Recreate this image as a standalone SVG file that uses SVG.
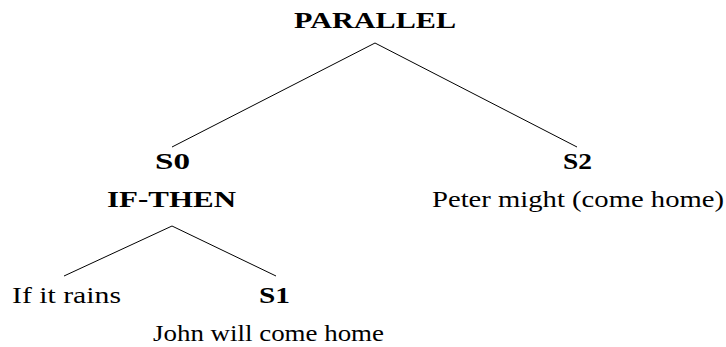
<svg xmlns="http://www.w3.org/2000/svg" width="726" height="347" viewBox="0 0 726 347">
<style>
text{font-family:Liberation Serif,DejaVu Serif,Times New Roman,serif;font-size:24px;fill:#000;text-anchor:middle}
.b{font-weight:bold}
line{stroke:#000;stroke-width:1}
</style>
<rect width="726" height="347" fill="#fff"/>
<g id="connectors">
<line x1="375" y1="43" x2="172" y2="147"/>
<line x1="375" y1="43" x2="577" y2="147"/>
<line x1="172" y1="226" x2="64" y2="276"/>
<line x1="172" y1="226" x2="276" y2="276"/>
</g>
<g id="parallel"><text class="b" x="375" y="28" textLength="162" lengthAdjust="spacingAndGlyphs">PARALLEL</text></g>
<g id="s0">
<text class="b" x="172.5" y="169" textLength="35" lengthAdjust="spacingAndGlyphs">S0</text>
<text class="b" x="171.5" y="207" textLength="129" lengthAdjust="spacingAndGlyphs">IF-THEN</text>
</g>
<g id="s2">
<text class="b" x="577.5" y="169" textLength="29" lengthAdjust="spacingAndGlyphs">S2</text>
<text x="578" y="207" textLength="292" lengthAdjust="spacingAndGlyphs">Peter might (come home)</text>
</g>
<g id="ifrains"><text x="66.5" y="303" textLength="109" lengthAdjust="spacingAndGlyphs">If it rains</text></g>
<g id="s1">
<text class="b" x="274.5" y="303" textLength="31" lengthAdjust="spacingAndGlyphs">S1</text>
<text x="268.5" y="341" textLength="231" lengthAdjust="spacingAndGlyphs">John will come home</text>
</g>
</svg>
